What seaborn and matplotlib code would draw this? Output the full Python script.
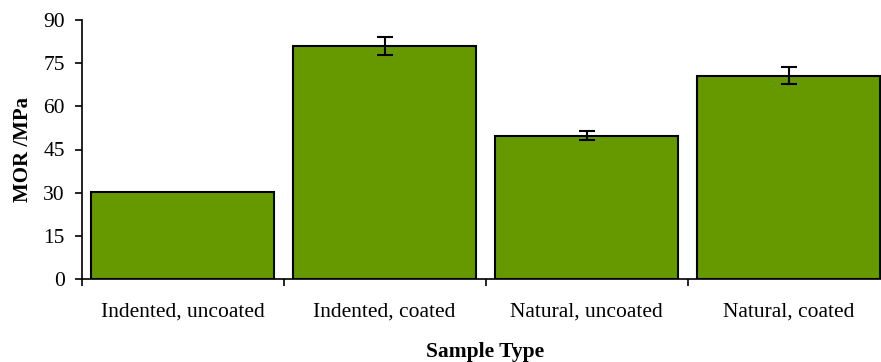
import matplotlib
matplotlib.use("Agg")
import matplotlib.pyplot as plt
import seaborn as sns
import pandas as pd
import numpy as np

categories = ["Indented, uncoated", "Indented, coated", "Natural, uncoated", "Natural, coated"]
mor_values = [30.3, 81.0, 49.8, 70.6]
mor_errors = [0.0, 3.2, 1.5, 2.9]
y_ticks = [0, 15, 30, 45, 60, 75, 90]

sns.set_style("ticks", {"axes.edgecolor": "black", "text.color": "black",
                        "xtick.color": "black", "ytick.color": "black",
                        "axes.labelcolor": "black"})
plt.rcParams['font.family'] = ['Liberation Serif', 'DejaVu Serif']

df = pd.DataFrame({"Sample Type": categories, "MOR": mor_values})

fig = plt.figure(figsize=(8.81, 3.62), dpi=100)
ax = fig.add_axes([81.5/881, 83/362, 808/881, 259/362])

sns.barplot(data=df, x="Sample Type", y="MOR", color="#669900", saturation=1,
            width=0.91, edgecolor="black", linewidth=1.5, ax=ax)
for i, (v, e) in enumerate(zip(mor_values, mor_errors)):
    if e > 0:
        ax.errorbar(i, v, yerr=e, fmt="none", ecolor="black", elinewidth=1.5,
                    capsize=5.5, capthick=1.5)

ax.set_xlim(-0.5, 3.5)
ax.set_ylim(0, 90)
ax.set_yticks(y_ticks)
ax.set_yticklabels([str(t) for t in y_ticks], fontsize=15.5, color="black")
ax.set_xticks(range(len(categories)))
ax.set_xticklabels(categories, fontsize=15.5, color="black")
ax.tick_params(axis="x", length=0, pad=17)
ax.set_xticks([-0.5, 0.5, 1.5, 2.5, 3.5], minor=True)
ax.tick_params(axis="x", which="minor", length=5, width=1.2, direction="out", color="black")
ax.tick_params(axis="y", length=5, width=1.2, direction="out", pad=7, color="black")
for s in ["top", "right"]:
    ax.spines[s].set_visible(False)
for s in ["left", "bottom"]:
    ax.spines[s].set_linewidth(1.2)
    ax.spines[s].set_color("black")

ax.set_xlabel("Sample Type", fontsize=15.5, fontweight="bold", labelpad=15, color="black")
ax.set_ylabel("MOR /MPa", fontsize=15, fontweight="bold", labelpad=7, color="black")

fig.savefig("out.png", dpi=100)
